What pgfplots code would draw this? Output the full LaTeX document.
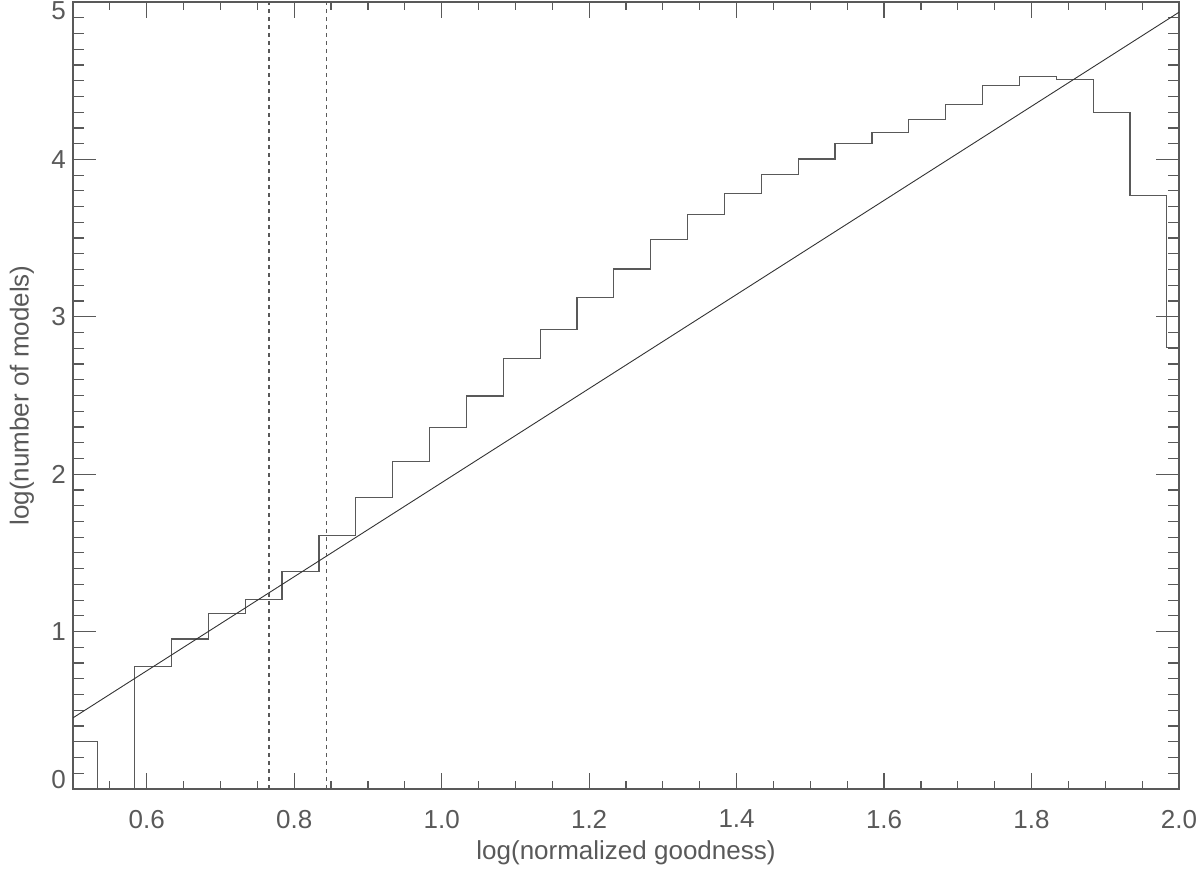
\documentclass[border=0pt]{standalone}
\usepackage{pgfplots}
\pgfplotsset{compat=1.18}
\usepackage{fontspec}
\setmainfont{Liberation Sans}
\definecolor{ink}{gray}{0.35}
\begin{document}
\begin{tikzpicture}
\begin{axis}[
  scale only axis,
  width=553pt, height=393.5pt,
  xmin=0.5, xmax=2.0, ymin=0, ymax=5,
  axis line style={ink, line width=0.6pt},
  tick style={ink, line width=0.6pt},
  tick align=inside,
  xtick={0.6,0.8,1.0,1.2,1.4,1.6,1.8,2.0},
  xticklabels={0.6,0.8,1.0,1.2,1.4,1.6,1.8,2.0},
  minor xtick={0.55,0.65,0.7,0.75,0.85,0.9,0.95,1.05,1.1,1.15,1.25,1.3,1.35,1.45,1.5,1.55,1.65,1.7,1.75,1.85,1.9,1.95},
  ytick={0,1,2,3,4,5},
  yticklabels={\raisebox{4.5pt}[\height][\depth]{0},1,2,3,4,\raisebox{-4.5pt}[\height][\depth]{5}},
  minor y tick num=9,
  xtick style={/pgfplots/major tick length=8pt, /pgfplots/minor tick length=4pt},
  ytick style={/pgfplots/major tick length=11.3pt, /pgfplots/minor tick length=5.7pt},
  xticklabel style={font=\fontsize{13pt}{15pt}\selectfont, text=ink, yshift=-7pt},
  yticklabel style={font=\fontsize{13pt}{15pt}\selectfont, text=ink},
  xlabel={log(normalized goodness)},
  ylabel={log(number of models)},
  every axis x label/.style={at={(axis description cs:0.5,-0.0813)}, anchor=center, font=\fontsize{13pt}{15pt}\selectfont, text=ink},
  every axis y label/.style={at={(axis description cs:-0.0461,0.5)}, rotate=90, anchor=center, font=\fontsize{13pt}{15pt}\selectfont, text=ink},
]
\addplot[const plot, ink, line width=0.6pt] coordinates {
(0.5,0.30) (0.5335,0) (0.5835,0.78) (0.6335,0.953) (0.6835,1.116)
(0.7335,1.203) (0.7835,1.380) (0.8335,1.612) (0.8835,1.852) (0.9335,2.080)
(0.9835,2.297) (1.0335,2.497) (1.0835,2.735) (1.1335,2.917) (1.1835,3.124)
(1.2335,3.304) (1.2835,3.49) (1.3335,3.652) (1.3835,3.781) (1.4335,3.904)
(1.4835,4.003) (1.5335,4.103) (1.5835,4.172) (1.6335,4.253) (1.6835,4.348)
(1.7335,4.469) (1.7835,4.528) (1.8335,4.507) (1.8835,4.299) (1.9335,3.773)
(1.9835,2.805) (2.0,2.805)
};
\addplot[black!80, line width=0.45pt] coordinates {(0.5,0.452) (2.0,4.935)};
\addplot[ink, line width=0.6pt, dash pattern=on 2pt off 2pt] coordinates {(0.7657,0) (0.7657,5)};
\addplot[ink, line width=0.6pt, dash pattern=on 2pt off 2pt] coordinates {(0.844,0) (0.844,5)};
\end{axis}
\pgfresetboundingbox
\path ([shift={(-36.5pt,-40.5pt)}]current axis.south west) rectangle ([shift={(10.5pt,1pt)}]current axis.north east);
\end{tikzpicture}
\end{document}
